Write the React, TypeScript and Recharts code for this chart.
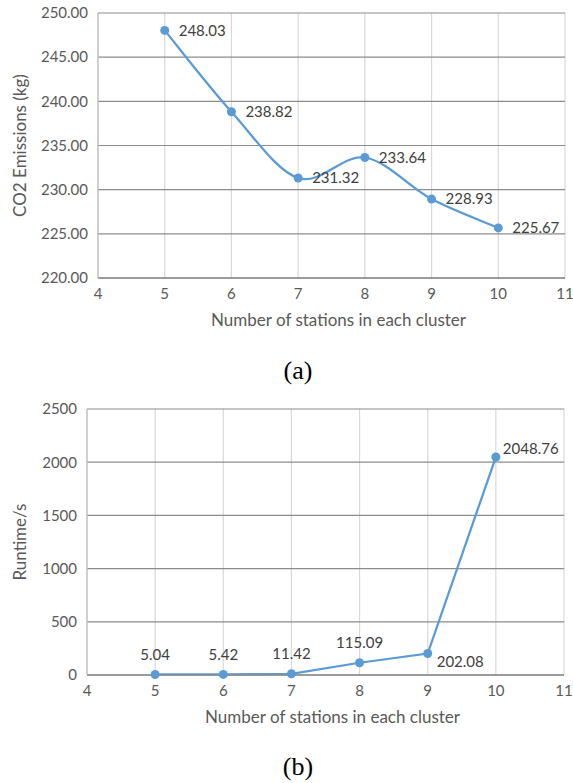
import React from 'react';
import { LineChart, Line, XAxis, YAxis, CartesianGrid, LabelList } from 'recharts';

const stationsA = [5, 6, 7, 8, 9, 10];
const co2Values = [248.03, 238.82, 231.32, 233.64, 228.93, 225.67];
const stationsB = [5, 6, 7, 8, 9, 10];
const runtimeValues = [5.04, 5.42, 11.42, 115.09, 202.08, 2048.76];
const xTicks = [4, 5, 6, 7, 8, 9, 10, 11];
const yTicksA = [220, 225, 230, 235, 240, 245, 250];
const yTicksB = [0, 500, 1000, 1500, 2000, 2500];

const dataA = stationsA.map((s, i) => ({ x: s, v: co2Values[i] }));
const dataB = stationsB.map((s, i) => ({ x: s, v: runtimeValues[i] }));

const FONT = 'Lato, "Open Sans", sans-serif';
const BLUE = '#5b9bd5';
const TICK = { fill: '#595959', fontSize: 15, fontFamily: FONT };

function excelSmooth(context: any) {
  let pts: number[][] = [];
  return {
    areaStart() {},
    areaEnd() {},
    lineStart() { pts = []; },
    point(x: number, y: number) { pts.push([+x, +y]); },
    lineEnd() {
      const n = pts.length;
      if (!n) return;
      context.moveTo(pts[0][0], pts[0][1]);
      const t = 1 / 6;
      for (let i = 0; i < n - 1; i++) {
        const p0 = pts[i - 1] || pts[i];
        const p1 = pts[i];
        const p2 = pts[i + 1];
        const p3 = pts[i + 2] || p2;
        context.bezierCurveTo(
          p1[0] + (p2[0] - p0[0]) * t, p1[1] + (p2[1] - p0[1]) * t,
          p2[0] - (p3[0] - p1[0]) * t, p2[1] - (p3[1] - p1[1]) * t,
          p2[0], p2[1]
        );
      }
    },
  };
}

const labelA = (props: any) => {
  const { x, y, value } = props;
  return (
    <text x={x + 14} y={y} dy="0.35em" fill="#404040" fontSize={15} fontFamily={FONT} textAnchor="start">
      {Number(value).toFixed(2)}
    </text>
  );
};

const labelB = (props: any) => {
  const { x, y, value, index } = props;
  let tx = x, ty = y - 20, anchor = 'middle';
  if (index === 4) { tx = x + 9; ty = y + 8; anchor = 'start'; }
  if (index === 5) { tx = x + 7; ty = y - 8; anchor = 'start'; }
  return (
    <text x={tx} y={ty} dy="0.35em" fill="#404040" fontSize={15} fontFamily={FONT} textAnchor={anchor as any}>
      {Number(value).toFixed(2)}
    </text>
  );
};

const caption: React.CSSProperties = {
  position: 'absolute', left: 0, width: 596, textAlign: 'center', lineHeight: '30px',
  fontFamily: '"Liberation Serif", "Times New Roman", serif', fontSize: 26, color: '#000',
};

export default function App() {
  return (
    <div style={{ position: 'absolute', left: 0, top: 0, width: 573, height: 783, background: '#fff', overflow: 'hidden' }}>
      <div style={{ position: 'absolute', left: 0, top: 0 }}>
        <LineChart width={573} height={340} data={dataA} margin={{ top: 13, right: 8, bottom: 0, left: 0 }}>
          <CartesianGrid horizontal={false} stroke="#d9d9d9" strokeWidth={1.2} verticalValues={xTicks} />
          <CartesianGrid vertical={false} stroke="#8c8c8c" strokeWidth={1.2} horizontalValues={yTicksA} />
          <XAxis type="number" dataKey="x" domain={[4, 11]} ticks={xTicks} interval={0} tickLine={false}
            axisLine={{ stroke: '#8c8c8c', strokeWidth: 1.5 }} tick={TICK} tickMargin={4} height={62}
            label={{ value: 'Number of stations in each cluster', position: 'insideBottom', offset: 14, dx: 7, fill: '#595959', fontSize: 17, fontFamily: FONT }} />
          <YAxis type="number" domain={[220, 250]} ticks={yTicksA} interval={0} tickLine={false}
            axisLine={{ stroke: '#bfbfbf', strokeWidth: 1.2 }} tick={TICK} tickMargin={4} width={98}
            tickFormatter={(v: number) => v.toFixed(2)}
            label={{ value: 'CO2 Emissions (kg)', angle: -90, position: 'insideLeft', offset: 20, fill: '#595959', fontSize: 17, fontFamily: FONT, style: { textAnchor: 'middle' } }} />
          <Line dataKey="v" type={excelSmooth as any} stroke={BLUE} strokeWidth={2.25} isAnimationActive={false}
            dot={{ r: 4.5, fill: BLUE, stroke: BLUE, strokeWidth: 0 }}>
            <LabelList dataKey="v" content={labelA} />
          </Line>
        </LineChart>
      </div>
      <div style={{ ...caption, top: 356 }}>(a)</div>
      <div style={{ position: 'absolute', left: 0, top: 390 }}>
        <LineChart width={573} height={345} data={dataB} margin={{ top: 19, right: 9, bottom: 0, left: 0 }}>
          <CartesianGrid horizontal={false} stroke="#d9d9d9" strokeWidth={1.2} verticalValues={xTicks} />
          <CartesianGrid vertical={false} stroke="#8c8c8c" strokeWidth={1.2} horizontalValues={yTicksB} />
          <XAxis type="number" dataKey="x" domain={[4, 11]} ticks={xTicks} interval={0} tickLine={false}
            axisLine={{ stroke: '#8c8c8c', strokeWidth: 1.5 }} tick={TICK} tickMargin={4} height={60}
            label={{ value: 'Number of stations in each cluster', position: 'insideBottom', offset: 12, dx: 7, fill: '#595959', fontSize: 17, fontFamily: FONT }} />
          <YAxis type="number" domain={[0, 2500]} ticks={yTicksB} interval={0} tickLine={false}
            axisLine={{ stroke: '#bfbfbf', strokeWidth: 1.2 }} tick={TICK} tickMargin={4} width={87}
            label={{ value: 'Runtime/s', angle: -90, position: 'insideLeft', offset: 20, fill: '#595959', fontSize: 17, fontFamily: FONT, style: { textAnchor: 'middle' } }} />
          <Line dataKey="v" type="linear" stroke={BLUE} strokeWidth={2.25} isAnimationActive={false}
            dot={{ r: 4.5, fill: BLUE, stroke: BLUE, strokeWidth: 0 }}>
            <LabelList dataKey="v" content={labelB} />
          </Line>
        </LineChart>
      </div>
      <div style={{ ...caption, top: 752 }}>(b)</div>
    </div>
  );
}
